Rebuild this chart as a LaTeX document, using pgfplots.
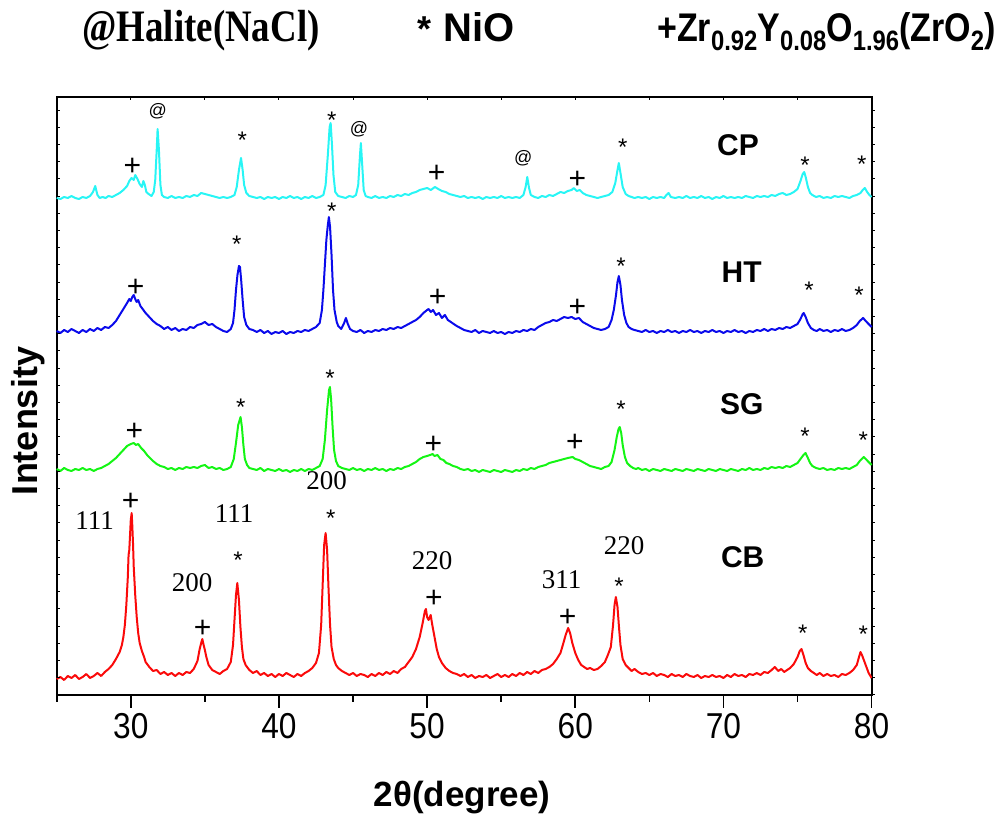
\documentclass[border=0pt]{standalone}
\usepackage{fontspec}
\setmainfont{Liberation Sans}
\newfontfamily\narrowsans[FakeStretch=0.88]{Liberation Sans}
\newfontfamily\titlesans[FakeStretch=0.85]{Liberation Sans}
\newfontfamily\tnr{Liberation Serif}
\newfontfamily\tnrnarrow[FakeStretch=0.82]{Liberation Serif}
\usepackage{pgfplots}
\pgfplotsset{compat=1.18}
\definecolor{cpc}{RGB}{40,245,245}
\definecolor{htc}{RGB}{10,10,235}
\definecolor{sgc}{RGB}{20,245,20}
\definecolor{cbc}{RGB}{250,10,10}
\newcommand{\pl}[2]{\node[anchor=base,inner sep=0pt,font=\fontsize{30}{30}\selectfont] at (#1,{816-#2}) {+};}
\newcommand{\st}[2]{\node[anchor=base,inner sep=0pt,font=\fontsize{24}{24}\selectfont] at (#1,{816-#2}) {*};}
\newcommand{\at}[2]{\node[anchor=base,inner sep=0pt,font=\fontsize{18}{18}\selectfont] at (#1,{816-#2}) {@};}
\newcommand{\hkl}[3]{\node[anchor=base,inner sep=0pt,font=\fontsize{27}{27}\tnr] at (#1,{816-#2}) {#3};}
\newcommand{\smp}[3]{\node[anchor=base,inner sep=0pt,font=\fontsize{30}{30}\bfseries] at (#1,{816-#2}) {#3};}
\begin{document}
\begin{tikzpicture}[x=1pt,y=1pt]
\useasboundingbox (0,0) rectangle (1004,816);
% data axis
\begin{axis}[at={(56.7pt,121pt)}, anchor=south west, scale only axis,
  width=814.9pt, height=598pt, xmin=25, xmax=80, ymin=0, ymax=598,
  axis line style={line width=2pt},
  xtick={30,40,...,80}, minor xtick={25,35,...,75},
  xtick pos=bottom, ytick=\empty,
  tick align=outside, major tick length=12.7pt, minor tick length=7pt,
  tick style={line width=1.6pt, black},
  /pgf/number format/assume math mode=true,
  xticklabel style={font=\fontsize{36}{36}\narrowsans, yshift=-2pt},
  clip=false]
\addplot[cbc, line width=2pt, line join=round] coordinates {
(25.0,16)(25.25,18)(25.5,15)(25.75,19)(26.0,17)(26.25,20)(26.5,16)(26.75,18)(27.0,21)(27.25,17)(27.5,19)(27.75,22)(28.0,19)(28.25,23)(28.5,26)(28.75,30)(29.0,36)(29.25,43)(29.4,50)(29.5,58)(29.6,70)(29.7,90)(29.8,118)(29.85,140)(29.9,145)(29.95,160)(30.0,175)(30.06,182)(30.1,170)(30.15,152)(30.2,128)(30.3,100)(30.4,78)(30.5,62)(30.6,52)(30.75,44)(30.9,38)(31.0,33)(31.25,28)(31.5,24)(31.75,25)(32.0,21)(32.25,23)(32.5,20)(32.75,22)(33.0,19)(33.25,22)(33.5,20)(33.75,23)(34.0,22)(34.25,26)(34.5,34)(34.65,46)(34.75,52)(34.83,56)(34.9,51)(35.0,45)(35.1,38)(35.25,30)(35.5,25)(35.75,23)(36.0,21)(36.25,24)(36.5,26)(36.75,33)(36.9,50)(37.0,75)(37.1,100)(37.19,112)(37.3,95)(37.4,68)(37.5,48)(37.6,36)(37.75,30)(38.0,25)(38.25,22)(38.5,24)(38.75,20)(39.0,22)(39.25,19)(39.5,21)(39.75,18)(40.0,21)(40.25,19)(40.5,22)(40.75,20)(41.0,18)(41.25,21)(41.5,19)(41.75,22)(42.0,24)(42.25,27)(42.5,32)(42.7,42)(42.85,70)(42.95,110)(43.05,150)(43.15,162)(43.25,145)(43.35,105)(43.45,70)(43.55,48)(43.7,36)(43.85,30)(44.0,27)(44.25,24)(44.5,22)(44.75,20)(45.0,22)(45.25,19)(45.5,21)(45.75,20)(46.0,18)(46.25,21)(46.5,19)(46.75,22)(47.0,20)(47.25,23)(47.5,21)(47.75,24)(48.0,22)(48.25,26)(48.5,28)(48.75,33)(49.0,38)(49.25,46)(49.5,58)(49.7,72)(49.85,84)(49.92,86)(50.0,78)(50.1,75)(50.24,80)(50.35,70)(50.5,58)(50.65,46)(50.8,38)(51.0,32)(51.25,27)(51.5,24)(51.75,22)(52.0,21)(52.25,19)(52.5,21)(52.75,18)(53.0,20)(53.25,17)(53.5,19)(53.75,18)(54.0,20)(54.25,17)(54.5,19)(54.75,21)(55.0,18)(55.25,20)(55.5,18)(55.75,21)(56.0,19)(56.25,22)(56.5,20)(56.75,23)(57.0,21)(57.25,24)(57.5,22)(57.75,25)(58.0,26)(58.25,28)(58.5,31)(58.75,36)(59.0,42)(59.2,52)(59.35,60)(59.52,67)(59.65,62)(59.8,52)(60.0,42)(60.2,35)(60.4,30)(60.6,28)(60.8,26)(61.0,27)(61.25,25)(61.5,26)(61.75,29)(62.0,33)(62.2,40)(62.4,48)(62.55,70)(62.65,90)(62.74,98)(62.85,88)(62.95,68)(63.05,50)(63.2,36)(63.4,30)(63.6,27)(63.8,24)(64.0,26)(64.25,23)(64.5,21)(64.75,22)(65.0,20)(65.25,22)(65.5,19)(65.75,21)(66.0,20)(66.25,18)(66.5,21)(66.75,19)(67.0,20)(67.25,18)(67.5,21)(67.75,19)(68.0,18)(68.25,20)(68.5,17)(68.75,19)(69.0,18)(69.25,20)(69.5,18)(69.75,19)(70.0,17)(70.25,20)(70.5,18)(70.75,21)(71.0,19)(71.25,20)(71.5,18)(71.75,21)(72.0,20)(72.25,22)(72.5,20)(72.75,23)(73.0,22)(73.25,25)(73.47,28)(73.7,24)(73.9,26)(74.1,23)(74.3,25)(74.5,27)(74.75,31)(75.0,38)(75.15,44)(75.27,46)(75.4,40)(75.55,32)(75.7,27)(75.9,24)(76.1,22)(76.3,20)(76.5,22)(76.75,19)(77.0,21)(77.25,19)(77.5,20)(77.75,18)(78.0,21)(78.25,20)(78.5,22)(78.75,25)(79.0,30)(79.15,38)(79.25,43)(79.35,40)(79.5,34)(79.65,28)(79.8,22)(80.0,17)};
\addplot[sgc, line width=2pt, line join=round] coordinates {
(25.0,226)(25.25,224)(25.5,227)(25.75,225)(26.0,224)(26.25,226)(26.5,225)(26.75,227)(27.0,225)(27.25,226)(27.5,224)(27.75,226)(28.0,227)(28.25,229)(28.5,231)(28.75,234)(29.0,237)(29.25,241)(29.5,245)(29.75,249)(30.0,251)(30.2,252)(30.35,250)(30.5,251)(30.7,247)(30.9,244)(31.1,240)(31.3,237)(31.5,234)(31.75,231)(32.0,229)(32.25,228)(32.5,226)(32.75,227)(33.0,225)(33.25,227)(33.5,226)(33.75,228)(34.0,227)(34.25,228)(34.5,227)(34.75,229)(35.0,230)(35.25,227)(35.5,228)(35.75,226)(36.0,227)(36.25,225)(36.5,226)(36.75,228)(36.95,236)(37.1,252)(37.25,270)(37.41,278)(37.5,268)(37.6,250)(37.7,236)(37.85,230)(38.0,227)(38.25,226)(38.5,225)(38.75,227)(39.0,224)(39.25,226)(39.5,225)(39.75,224)(40.0,226)(40.25,224)(40.5,225)(40.75,223)(41.0,225)(41.25,224)(41.5,226)(41.75,224)(42.0,226)(42.25,225)(42.5,227)(42.75,229)(42.95,236)(43.1,255)(43.25,285)(43.38,305)(43.44,308)(43.52,296)(43.62,268)(43.72,245)(43.85,234)(44.0,229)(44.25,227)(44.5,226)(44.75,225)(45.0,227)(45.25,225)(45.5,226)(45.75,224)(46.0,226)(46.25,225)(46.5,227)(46.75,225)(47.0,226)(47.25,224)(47.5,226)(47.75,225)(48.0,227)(48.25,226)(48.5,228)(48.75,229)(49.0,231)(49.25,233)(49.5,236)(49.75,238)(50.0,239)(50.2,240)(50.37,241)(50.5,239)(50.7,240)(50.9,236)(51.1,235)(51.3,232)(51.5,231)(51.75,229)(52.0,228)(52.25,226)(52.5,225)(52.75,226)(53.0,224)(53.25,225)(53.5,223)(53.75,225)(54.0,224)(54.25,223)(54.5,225)(54.75,224)(55.0,223)(55.25,225)(55.5,224)(55.75,223)(56.0,225)(56.25,224)(56.5,226)(56.75,225)(57.0,227)(57.25,226)(57.5,228)(57.75,229)(58.0,230)(58.25,232)(58.5,233)(58.75,234)(59.0,235)(59.25,236)(59.5,237)(59.82,238)(60.0,236)(60.25,235)(60.5,233)(60.75,231)(61.0,229)(61.25,228)(61.5,227)(61.75,226)(62.0,228)(62.25,229)(62.45,233)(62.65,245)(62.8,258)(62.92,266)(63.0,268)(63.1,262)(63.2,250)(63.35,238)(63.5,232)(63.7,229)(63.9,227)(64.1,226)(64.25,227)(64.5,225)(64.75,226)(65.0,224)(65.25,226)(65.5,225)(65.75,224)(66.0,226)(66.25,225)(66.5,224)(66.75,226)(67.0,225)(67.25,224)(67.5,226)(67.75,225)(68.0,224)(68.25,226)(68.5,225)(68.75,224)(69.0,226)(69.25,225)(69.5,224)(69.75,226)(70.0,225)(70.25,224)(70.5,226)(70.75,225)(71.0,224)(71.25,226)(71.5,225)(71.75,227)(72.0,225)(72.25,226)(72.5,225)(72.75,227)(73.0,226)(73.25,228)(73.5,227)(73.75,228)(74.0,227)(74.25,229)(74.5,228)(74.75,230)(75.0,232)(75.2,236)(75.4,240)(75.54,242)(75.7,237)(75.85,232)(76.0,229)(76.25,227)(76.5,226)(76.75,227)(77.0,225)(77.25,226)(77.5,225)(77.75,227)(78.0,226)(78.25,227)(78.5,226)(78.75,228)(79.0,230)(79.2,234)(79.47,238)(79.6,236)(79.8,233)(80.0,230)};
\addplot[htc, line width=2pt, line join=round] coordinates {
(25.0,364)(25.25,362)(25.5,365)(25.75,363)(26.0,366)(26.25,364)(26.5,362)(26.75,365)(27.0,363)(27.25,366)(27.5,364)(27.75,367)(28.0,365)(28.25,368)(28.5,367)(28.75,370)(29.0,374)(29.25,380)(29.5,386)(29.75,392)(29.9,396)(30.0,394)(30.1,398)(30.2,400)(30.3,396)(30.4,393)(30.5,395)(30.65,389)(30.8,386)(31.0,382)(31.25,378)(31.5,374)(31.75,371)(32.0,369)(32.25,366)(32.5,368)(32.75,365)(33.0,367)(33.25,364)(33.5,366)(33.75,365)(34.0,368)(34.25,367)(34.5,370)(34.75,371)(35.0,373)(35.25,370)(35.5,371)(35.75,368)(36.0,366)(36.25,364)(36.5,363)(36.75,366)(36.9,372)(37.0,385)(37.1,405)(37.2,420)(37.3,429)(37.37,428)(37.45,415)(37.55,395)(37.65,378)(37.8,370)(38.0,366)(38.25,365)(38.5,363)(38.75,365)(39.0,362)(39.25,364)(39.5,361)(39.75,363)(40.0,362)(40.25,364)(40.5,361)(40.75,363)(41.0,362)(41.25,364)(41.5,363)(41.75,365)(42.0,364)(42.25,366)(42.5,368)(42.75,372)(42.9,385)(43.0,405)(43.1,430)(43.2,455)(43.3,470)(43.37,478)(43.45,468)(43.55,440)(43.65,405)(43.75,385)(43.9,373)(44.0,369)(44.2,366)(44.4,372)(44.52,377)(44.65,371)(44.8,366)(45.0,364)(45.25,363)(45.5,365)(45.75,362)(46.0,364)(46.25,363)(46.5,365)(46.75,364)(47.0,366)(47.25,365)(47.5,367)(47.75,366)(48.0,368)(48.25,367)(48.5,369)(48.75,371)(49.0,373)(49.25,375)(49.5,378)(49.75,382)(50.0,385)(50.1,386)(50.25,383)(50.4,385)(50.6,380)(50.8,382)(51.0,377)(51.2,380)(51.4,375)(51.6,373)(51.8,371)(52.0,369)(52.25,367)(52.5,365)(52.75,364)(53.0,363)(53.25,365)(53.5,362)(53.75,364)(54.0,363)(54.25,362)(54.5,364)(54.75,362)(55.0,363)(55.25,361)(55.5,363)(55.75,362)(56.0,364)(56.25,363)(56.5,365)(56.75,364)(57.0,366)(57.25,365)(57.5,368)(57.75,370)(58.0,372)(58.25,373)(58.5,375)(58.75,374)(59.0,376)(59.25,378)(59.5,377)(59.75,378)(60.0,376)(60.25,377)(60.5,373)(60.75,371)(61.0,369)(61.25,367)(61.5,366)(61.75,365)(62.0,366)(62.25,368)(62.45,375)(62.6,385)(62.75,400)(62.85,413)(62.94,419)(63.05,410)(63.15,395)(63.3,380)(63.45,372)(63.6,368)(63.8,366)(64.0,365)(64.25,364)(64.5,363)(64.75,365)(65.0,363)(65.25,364)(65.5,362)(65.75,364)(66.0,363)(66.25,365)(66.5,363)(66.75,364)(67.0,362)(67.25,364)(67.5,363)(67.75,365)(68.0,363)(68.25,364)(68.5,362)(68.75,364)(69.0,363)(69.25,365)(69.5,363)(69.75,364)(70.0,362)(70.25,364)(70.5,363)(70.75,365)(71.0,363)(71.25,364)(71.5,362)(71.75,364)(72.0,363)(72.25,365)(72.5,364)(72.75,366)(73.0,364)(73.25,366)(73.5,365)(73.75,367)(74.0,366)(74.25,368)(74.5,367)(74.75,369)(75.0,371)(75.2,376)(75.35,381)(75.42,382)(75.55,378)(75.7,372)(75.9,367)(76.1,365)(76.3,364)(76.5,366)(76.75,364)(77.0,365)(77.25,363)(77.5,365)(77.75,364)(78.0,366)(78.25,364)(78.5,365)(78.75,367)(79.0,370)(79.2,374)(79.43,377)(79.6,374)(79.8,371)(80.0,368)};
\addplot[cpc, line width=2pt, line join=round] coordinates {
(25.0,497)(25.25,496)(25.5,498)(25.75,497)(26.0,499)(26.25,497)(26.5,496)(26.75,498)(27.0,497)(27.25,499)(27.45,503)(27.6,509)(27.75,500)(27.9,497)(28.1,498)(28.3,497)(28.5,499)(28.75,498)(29.0,500)(29.25,502)(29.5,505)(29.75,509)(29.9,514)(30.05,517)(30.2,515)(30.3,520)(30.45,516)(30.6,511)(30.75,508)(30.85,514)(30.95,510)(31.05,503)(31.2,501)(31.4,499)(31.55,503)(31.65,515)(31.75,545)(31.81,566)(31.9,545)(32.0,510)(32.1,500)(32.25,498)(32.5,497)(32.75,499)(33.0,497)(33.25,498)(33.5,497)(33.75,499)(34.0,498)(34.25,500)(34.5,499)(34.75,502)(35.0,501)(35.25,500)(35.5,499)(35.75,498)(36.0,497)(36.25,498)(36.5,497)(36.75,498)(37.0,500)(37.15,508)(37.3,525)(37.44,537)(37.55,525)(37.65,510)(37.8,502)(38.0,499)(38.25,498)(38.5,497)(38.75,498)(39.0,496)(39.25,498)(39.5,497)(39.75,498)(40.0,496)(40.25,498)(40.5,497)(40.75,499)(41.0,497)(41.25,498)(41.5,496)(41.75,498)(42.0,497)(42.25,499)(42.5,497)(42.75,498)(43.0,500)(43.15,510)(43.3,540)(43.42,568)(43.49,572)(43.58,550)(43.68,520)(43.8,503)(44.0,499)(44.25,498)(44.5,497)(44.75,499)(45.0,498)(45.2,500)(45.35,510)(45.47,540)(45.53,552)(45.62,530)(45.72,505)(45.85,499)(46.0,498)(46.25,497)(46.5,499)(46.75,497)(47.0,498)(47.25,497)(47.5,499)(47.75,498)(48.0,500)(48.25,499)(48.5,501)(48.75,500)(49.0,502)(49.25,503)(49.5,505)(49.75,506)(50.0,507)(50.25,505)(50.53,508)(50.75,506)(51.0,504)(51.25,503)(51.5,501)(51.75,500)(52.0,499)(52.25,498)(52.5,499)(52.75,497)(53.0,498)(53.25,497)(53.5,498)(53.75,496)(54.0,498)(54.25,497)(54.5,498)(54.75,497)(55.0,499)(55.25,497)(55.5,498)(55.75,497)(56.0,498)(56.25,497)(56.5,500)(56.65,508)(56.76,518)(56.88,507)(57.0,500)(57.25,498)(57.5,497)(57.75,499)(58.0,498)(58.25,500)(58.5,499)(58.75,501)(59.0,503)(59.25,502)(59.5,504)(59.75,505)(59.9,507)(60.1,504)(60.3,505)(60.5,502)(60.75,500)(61.0,499)(61.25,498)(61.5,497)(61.75,498)(62.0,499)(62.25,500)(62.5,503)(62.7,512)(62.85,525)(62.94,532)(63.05,522)(63.2,508)(63.4,501)(63.6,499)(63.8,498)(64.0,497)(64.25,498)(64.5,497)(64.75,498)(65.0,496)(65.25,498)(65.5,497)(65.75,498)(66.0,497)(66.15,500)(66.3,502)(66.45,498)(66.75,497)(67.0,498)(67.25,497)(67.5,499)(67.75,497)(68.0,498)(68.25,497)(68.5,499)(68.75,497)(69.0,498)(69.25,496)(69.5,498)(69.75,497)(70.0,499)(70.25,497)(70.5,498)(70.75,497)(71.0,498)(71.25,497)(71.5,499)(71.75,498)(72.0,497)(72.25,499)(72.5,498)(72.75,499)(73.0,498)(73.25,500)(73.5,499)(73.75,501)(74.0,502)(74.25,500)(74.5,501)(74.75,503)(75.0,506)(75.2,514)(75.35,521)(75.45,523)(75.55,518)(75.7,508)(75.85,502)(76.0,500)(76.25,498)(76.5,499)(76.75,497)(77.0,498)(77.25,497)(77.5,499)(77.75,498)(78.0,499)(78.25,498)(78.5,497)(78.75,499)(79.0,500)(79.25,502)(79.4,505)(79.54,507)(79.7,503)(79.85,500)(80.0,498)};
\end{axis}
% top and left ticks, inward
\begin{axis}[at={(56.7pt,121pt)}, anchor=south west, scale only axis,
  width=814.9pt, height=598pt, xmin=25, xmax=80, ymin=0, ymax=598,
  axis line style={draw=none},
  xtick={25,30,...,80}, ytick={0,17.2,...,598},
  xticklabels={}, yticklabels={},
  xtick pos=top, ytick pos=left, tick align=inside,
  major tick length=3.5pt, tick style={line width=1pt, black}]
\end{axis}
% right ticks, outward
\begin{axis}[at={(56.7pt,121pt)}, anchor=south west, scale only axis,
  width=814.9pt, height=598pt, xmin=25, xmax=80, ymin=0, ymax=598,
  axis line style={draw=none},
  xtick=\empty, ytick={0,17.2,...,598}, yticklabels={},
  ytick pos=right, tick align=outside,
  major tick length=3pt, tick style={line width=1pt, black}]
\end{axis}
% titles
\node[anchor=base, inner sep=0pt, font=\fontsize{45}{45}\tnrnarrow\bfseries] at (201,{816-42}) {@Halite(NaCl)};
\node[anchor=base west, inner sep=0pt, font=\fontsize{36}{36}\bfseries] at (417,{816-42}) {*};
\node[anchor=base west, inner sep=0pt, font=\fontsize{40}{40}\bfseries] at (443,{816-42}) {NiO};
\node[anchor=base west, inner sep=0pt, font=\fontsize{40}{40}\titlesans\bfseries] at (657,{816-42}) {+Zr\raisebox{-9pt}{\fontsize{28}{28}\selectfont 0.92}Y\raisebox{-9pt}{\fontsize{28}{28}\selectfont 0.08}O\raisebox{-9pt}{\fontsize{28}{28}\selectfont 1.96}(ZrO\raisebox{-9pt}{\fontsize{28}{28}\selectfont 2})};
% axis labels
\node[anchor=base, inner sep=0pt, font=\fontsize{35}{35}\bfseries] at (462,{816-807}) {2θ(degree)};
\node[anchor=base, inner sep=0pt, rotate=90, font=\fontsize{36}{36}\bfseries] at (37,{816-421}) {Intensity};
% sample labels
\smp{738}{155.7}{CP}
\smp{741.7}{282.4}{HT}
\smp{741.7}{414.7}{SG}
\smp{742.7}{567.7}{CB}
% CB annotations
\hkl{94.5}{529.2}{111}
\pl{130.7}{510.5}
\hkl{234}{522.2}{111}
\st{238}{568.7}
\hkl{192}{591.9}{200}
\pl{202.7}{637.2}
\hkl{326.7}{489.9}{200}
\st{330.7}{527}
\hkl{432}{569.9}{220}
\pl{434}{607.8}
\hkl{561.7}{588.2}{311}
\pl{567.7}{626.2}
\hkl{624}{554.2}{220}
\st{619}{594.4}
\st{802.7}{641.4}
\st{863.3}{642.7}
% SG annotations
\pl{134.3}{440.5}
\st{240.7}{415.4}
\st{330}{387}
\pl{433.3}{453.8}
\pl{575}{451.2}
\st{621}{417.7}
\st{805}{444.4}
\st{863.3}{448.7}
% HT annotations
\pl{135.7}{296.5}
\st{236.7}{253}
\st{331.7}{219.7}
\pl{437.7}{306.5}
\pl{577.3}{316.5}
\st{621}{274.4}
\st{809}{298.7}
\st{859}{303.7}
% CP annotations
\pl{132.3}{175.5}
\at{157.7}{116.4}
\st{242.3}{148.7}
\st{331.7}{128.7}
\at{359}{134.7}
\pl{436.7}{182.2}
\at{523.3}{164}
\pl{577.3}{188.8}
\st{622.7}{155.4}
\st{805}{173.7}
\st{861.7}{173}
\end{tikzpicture}
\end{document}
